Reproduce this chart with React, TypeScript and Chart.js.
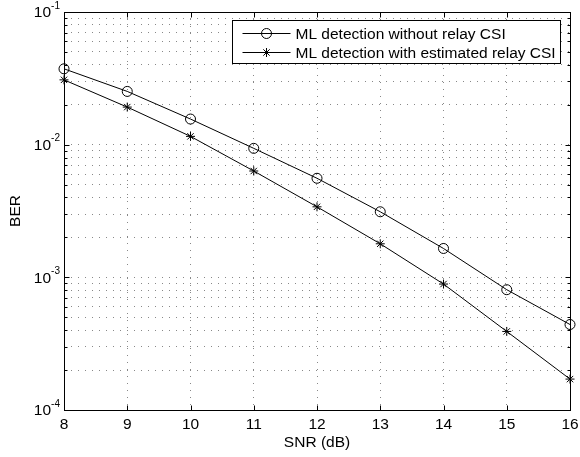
import React, { useEffect, useRef } from 'react';
import { Chart, registerables } from 'chart.js';

Chart.register(...registerables);

// ---- data ----
const snrDb = [8, 9, 10, 11, 12, 13, 14, 15, 16];
const berWithoutCsi = [0.0373, 0.0252, 0.0156, 0.00938, 0.00558, 0.00312, 0.00165, 0.000807, 0.000441];
const berWithEstCsi = [0.0308, 0.0192, 0.01155, 0.00633, 0.0034, 0.00179, 0.00089, 0.000391, 0.000171];
const seriesLabels = ['ML detection without relay CSI', 'ML detection with estimated relay CSI'];
const seriesMarkers = ['circle', 'star'];
const xTickValues = [8, 9, 10, 11, 12, 13, 14, 15, 16];
const yDecadeExponents = [-4, -3, -2, -1];
const yMinorMultipliers = [2, 3, 4, 5, 6, 7, 8, 9];

const FONT = '"Liberation Sans", Arial, Helvetica, sans-serif';

const yTickValues: number[] = [];
yDecadeExponents.forEach((e, i) => {
  yTickValues.push(Math.pow(10, e));
  if (i < yDecadeExponents.length - 1) {
    yMinorMultipliers.forEach((m) => yTickValues.push(m * Math.pow(10, e)));
  }
});

const isDecade = (v: number) => {
  const l = Math.log10(v);
  return Math.abs(l - Math.round(l)) < 1e-9;
};

function drawMarker(ctx: CanvasRenderingContext2D, style: string, x: number, y: number, r: number) {
  ctx.beginPath();
  if (style === 'circle') {
    ctx.arc(x, y, r, 0, Math.PI * 2);
  } else {
    for (let k = 0; k < 4; k++) {
      const a = (k * Math.PI) / 4;
      ctx.moveTo(x - Math.cos(a) * r, y - Math.sin(a) * r);
      ctx.lineTo(x + Math.cos(a) * r, y + Math.sin(a) * r);
    }
  }
  ctx.stroke();
}

const axesBoxPlugin = {
  id: 'axesBox',
  afterDatasetsDraw(chart: any) {
    const { ctx, chartArea: ca, scales } = chart;
    const xs = scales.x;
    const ys = scales.y;
    const L = Math.round(ca.left) + 0.5;
    const R = Math.round(ca.right) + 0.5;
    const T = Math.round(ca.top) + 0.5;
    const B = Math.round(ca.bottom) + 0.5;
    ctx.save();
    ctx.strokeStyle = '#000';
    ctx.lineWidth = 1;
    ctx.setLineDash([]);
    ctx.strokeRect(L, T, R - L, B - T);
    ctx.beginPath();
    xs.ticks.forEach((t: any) => {
      const px = Math.round(xs.getPixelForValue(t.value)) + 0.5;
      ctx.moveTo(px, B);
      ctx.lineTo(px, B - 5);
      ctx.moveTo(px, T);
      ctx.lineTo(px, T + 5);
    });
    ys.ticks.forEach((t: any) => {
      const len = isDecade(t.value) ? 5 : 3;
      const py = Math.round(ys.getPixelForValue(t.value)) + 0.5;
      ctx.moveTo(L, py);
      ctx.lineTo(L + len, py);
      ctx.moveTo(R, py);
      ctx.lineTo(R - len, py);
    });
    ctx.stroke();

    // decade labels 10^n
    ctx.fillStyle = '#000';
    ys.ticks.forEach((t: any) => {
      if (!isDecade(t.value)) return;
      const exp = String(Math.round(Math.log10(t.value)));
      const py = ys.getPixelForValue(t.value);
      const rightEdge = ca.left - 4;
      ctx.font = `10px ${FONT}`;
      const ew = ctx.measureText(exp).width;
      ctx.textAlign = 'left';
      ctx.textBaseline = 'middle';
      ctx.fillText(exp, rightEdge - ew, py - 6);
      ctx.font = `15.5px ${FONT}`;
      ctx.textAlign = 'right';
      ctx.fillText('10', rightEdge - ew, py + 1);
    });
    ctx.restore();
  },
};

const boxLegendPlugin = {
  id: 'boxLegend',
  afterDraw(chart: any) {
    const { ctx, chartArea: ca } = chart;
    const datasets = chart.data.datasets;
    ctx.save();
    ctx.font = `15.5px ${FONT}`;
    let maxW = 0;
    datasets.forEach((d: any) => {
      maxW = Math.max(maxW, ctx.measureText(d.label).width);
    });
    const padL = 10;
    const sampleW = 48;
    const gap = 5;
    const padR = 5;
    const rowH = 19;
    const right = Math.round(ca.right - 10) + 0.5;
    const top = Math.round(ca.top + 8) + 0.5;
    const width = Math.round(padL + sampleW + gap + maxW + padR);
    const height = 43;
    const left = right - width;
    ctx.fillStyle = '#fff';
    ctx.fillRect(left, top, width, height);
    ctx.strokeStyle = '#000';
    ctx.lineWidth = 1;
    ctx.strokeRect(left, top, width, height);
    datasets.forEach((d: any, i: number) => {
      const cy = Math.round(top + 12 + i * rowH) + 0.5;
      const x0 = left + padL;
      ctx.beginPath();
      ctx.moveTo(x0, cy);
      ctx.lineTo(x0 + sampleW, cy);
      ctx.stroke();
      drawMarker(ctx, d.pointStyle, x0 + sampleW / 2, cy, d.pointRadius);
      ctx.fillStyle = '#000';
      ctx.textAlign = 'left';
      ctx.textBaseline = 'middle';
      ctx.fillText(d.label, x0 + sampleW + gap, cy + 1);
    });
    ctx.restore();
  },
};

export default function App() {
  const canvasRef = useRef<HTMLCanvasElement | null>(null);

  useEffect(() => {
    const canvas = canvasRef.current;
    if (!canvas) return;
    const series = [berWithoutCsi, berWithEstCsi];
    const chart = new Chart(canvas, {
      type: 'line',
      data: {
        datasets: series.map((vals, i) => ({
          label: seriesLabels[i],
          data: snrDb.map((x, j) => ({ x, y: vals[j] })),
          borderColor: '#000',
          borderWidth: 1,
          backgroundColor: 'rgba(0,0,0,0)',
          pointStyle: seriesMarkers[i] as any,
          pointRadius: i === 0 ? 5 : 4.5,
          pointBorderWidth: 1,
          pointBorderColor: '#000',
          pointBackgroundColor: 'rgba(0,0,0,0)',
          tension: 0,
          clip: false as any,
        })),
      },
      options: {
        responsive: false,
        animation: false,
        events: [],
        layout: { padding: { top: 12, right: 10, left: 0, bottom: 0 } },
        plugins: {
          legend: { display: false },
          tooltip: { enabled: false },
        },
        scales: {
          x: {
            type: 'linear',
            min: 8,
            max: 16,
            afterBuildTicks: (s: any) => {
              s.ticks = xTickValues.map((v) => ({ value: v }));
            },
            afterFit: (s: any) => {
              s.height = 47;
              s.paddingLeft = 0;
              s.paddingRight = 0;
            },
            ticks: {
              color: '#000',
              font: { family: FONT, size: 15.5 },
              padding: 5,
              maxRotation: 0,
              autoSkip: false,
              callback: (v: any) => String(v),
            },
            grid: { color: '#888', lineWidth: 1, drawTicks: false },
            border: { display: false, dash: [1, 6] },
            title: {
              display: true,
              text: 'SNR (dB)',
              color: '#000',
              font: { family: FONT, size: 15.5 },
              padding: { top: 0, bottom: 5 },
            },
          },
          y: {
            type: 'logarithmic',
            min: 1e-4,
            max: 1e-1,
            afterBuildTicks: (s: any) => {
              s.ticks = yTickValues.map((v) => ({ value: v, major: isDecade(v) }));
            },
            afterFit: (s: any) => {
              s.width = 64;
              s.paddingTop = 0;
              s.paddingBottom = 0;
            },
            ticks: { display: false, autoSkip: false },
            grid: { color: '#888', lineWidth: 1, drawTicks: false },
            border: { display: false, dash: [1, 6] },
            title: {
              display: true,
              text: 'BER',
              color: '#000',
              font: { family: FONT, size: 15.5 },
              padding: { top: 6, bottom: 0 },
            },
          },
        },
      },
      plugins: [axesBoxPlugin, boxLegendPlugin],
    });
    return () => chart.destroy();
  }, []);

  return (
    <div style={{ position: 'absolute', left: 0, top: 0, width: 580, height: 457, background: '#fff' }}>
      <canvas ref={canvasRef} width={580} height={457} style={{ width: 580, height: 457, display: 'block' }} />
    </div>
  );
}
